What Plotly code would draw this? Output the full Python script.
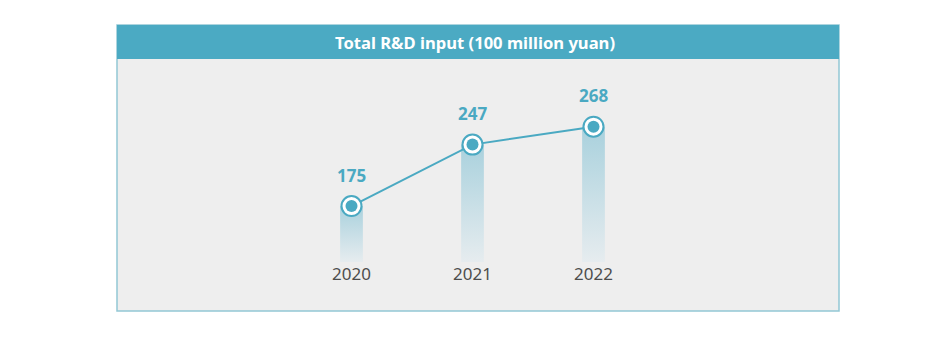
import plotly.graph_objects as go

# ---- data ----
years = ["2020", "2021", "2022"]
values = [175, 247, 268]
title_text = "Total R&D input (100 million yuan)"

# ---- style ----
W, H = 940, 338
TEAL = "#4AA9C2"
HEADER = "#4BAAC3"
PANEL_BG = "#EEEEEE"
PANEL_LINE = "#93C8D5"
FONT = "Noto Sans"
BASE = 109.4
YTOP = 311
HALF = 0.094


def px(x):
    return x / W


def py(y):
    return 1 - y / H


xs = list(range(len(years)))

fig = go.Figure()

# gradient bars
for x, v in zip(xs, values):
    fig.add_trace(go.Scatter(
        x=[x - HALF, x + HALF, x + HALF, x - HALF, x - HALF],
        y=[BASE, BASE, v, v, BASE],
        mode="none", fill="toself",
        fillgradient=dict(type="vertical",
                          colorscale=[[0, "#E6ECEF"], [1, "#A9D1DD"]]),
        hoverinfo="skip", showlegend=False,
    ))

# line + ring markers
fig.add_trace(go.Scatter(
    x=xs, y=values, mode="lines+markers",
    line=dict(color=TEAL, width=2),
    marker=dict(size=20, color="white", line=dict(color=TEAL, width=2)),
    showlegend=False, hoverinfo="skip",
))
fig.add_trace(go.Scatter(
    x=xs, y=values, mode="markers",
    marker=dict(size=12, color=TEAL),
    showlegend=False,
))

# value labels
for x, v in zip(xs, values):
    fig.add_annotation(x=x, y=v, text=str(v), showarrow=False, yshift=31,
                       xanchor="center", yanchor="middle",
                       font=dict(family=FONT, size=17, color=TEAL, weight="bold"))

# panel + header
fig.add_shape(type="rect", xref="paper", yref="paper",
              x0=px(117), x1=px(839), y0=py(311), y1=py(25),
              fillcolor=PANEL_BG, line=dict(color=PANEL_LINE, width=1.5),
              layer="below")
fig.add_shape(type="rect", xref="paper", yref="paper",
              x0=px(117), x1=px(839), y0=py(59), y1=py(25),
              fillcolor=HEADER, line=dict(width=0), layer="below")
fig.add_annotation(xref="paper", yref="paper", x=px(475), y=py(43),
                   xanchor="center", yanchor="middle",
                   text=title_text, showarrow=False,
                   font=dict(family=FONT, size=16.6, color="white", weight="bold"))

fig.update_layout(
    width=W, height=H, margin=dict(l=0, r=0, t=0, b=0),
    paper_bgcolor="white", plot_bgcolor="rgba(0,0,0,0)",
    font=dict(family=FONT),
    xaxis=dict(domain=[px(291), px(654)], range=[-0.5, 2.5],
               tickvals=xs, ticktext=years, showgrid=False, zeroline=False,
               showline=False, ticks="", automargin=False,
               tickfont=dict(family=FONT, size=17, color="#4D4D4D")),
    yaxis=dict(domain=[py(262), py(90)], range=[BASE, YTOP], visible=False),
)

fig.write_html("out.html")
